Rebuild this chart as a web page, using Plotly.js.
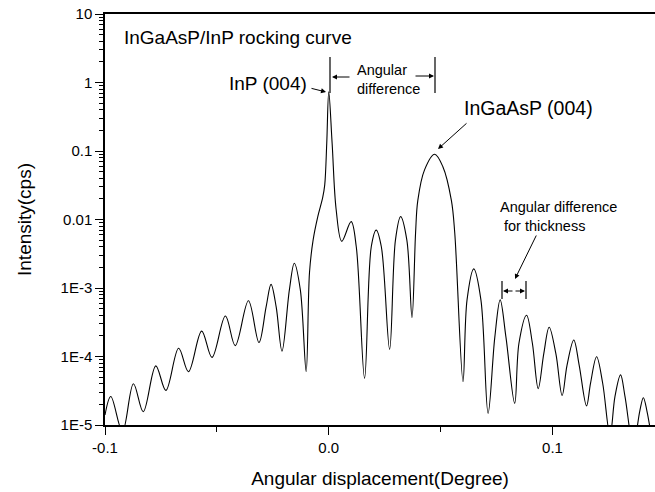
<!DOCTYPE html>
<html>
<head>
<meta charset="utf-8">
<script src="https://cdn.plot.ly/plotly-3.0.1.min.js"></script>
<style>
html,body{margin:0;padding:0;background:#fff;}
#chart{width:655px;height:492px;}
.modebar-container{display:none !important;}
</style>
</head>
<body>
<div id="chart"></div>
<script>
// Angular displacement (degree)
var angleDeg = [
  -0.1000, -0.0974, -0.0922, -0.0873, -0.0829, -0.0773, -0.0728, -0.0671, -0.0627,
  -0.0568, -0.0522, -0.0462, -0.0418, -0.0359, -0.0312, -0.0280, -0.0258, -0.0235,
  -0.0209, -0.0176, -0.0154, -0.0127, -0.0101, -0.0086, -0.0070, -0.0049, -0.0027,
  -0.0018, -0.0009, 0.0000, 0.0015, 0.0033, 0.0058, 0.0100, 0.0123, 0.0160,
  0.0190, 0.0212, 0.0235, 0.0272, 0.0298, 0.0321, 0.0349, 0.0372, 0.0388,
  0.0398, 0.0428, 0.0473, 0.0510, 0.0548, 0.0563, 0.0600, 0.0618, 0.0648,
  0.0680, 0.0712, 0.0742, 0.0766, 0.0792, 0.0831, 0.0850, 0.0884, 0.0910,
  0.0936, 0.0961, 0.0985, 0.1015, 0.1043, 0.1065, 0.1095, 0.1119, 0.1152,
  0.1170, 0.1197, 0.1224, 0.1257, 0.1279, 0.1304, 0.1324, 0.1361, 0.1390,
  0.1406, 0.1422, 0.1448
];
// Intensity (cps)
var intensity = [
  1.4e-5, 2.6e-5, 8e-6, 4.0e-5, 1.56e-5, 7.3e-5, 3.2e-5, 1.32e-4, 6.0e-5,
  2.35e-4, 9.7e-5, 3.9e-4, 1.44e-4, 6.5e-4, 1.6e-4, 5.3e-4, 1.13e-3, 5.3e-4,
  1.2e-4, 9.4e-4, 2.3e-3, 9.4e-4, 6.0e-5, 1.7e-3, 5.0e-3, 1.1e-2, 2.1e-2,
  3.2e-2, 0.13, 0.73, 0.13, 0.014, 4.8e-3, 9.3e-3, 4.0e-3, 4.8e-5,
  4.0e-3, 7.0e-3, 4.0e-3, 1.27e-4, 5.0e-3, 1.1e-2, 5.0e-3, 3.7e-4, 6.4e-3,
  1.9e-2, 5.3e-2, 8.95e-2, 5.9e-2, 1.9e-2, 6.4e-3, 4.3e-5, 6.7e-4, 1.9e-3,
  6.7e-4, 1.48e-5, 1.9e-4, 6.7e-4, 1.9e-4, 2.07e-5, 1.56e-4, 4.0e-4, 1.56e-4,
  3.4e-5, 1.1e-4, 2.67e-4, 1.1e-4, 2.7e-5, 7.5e-5, 1.74e-4, 7.5e-5, 1.9e-5,
  4.1e-5, 9.9e-5, 4.1e-5, 7e-6, 2.6e-5, 5.4e-5, 2.6e-5, 5e-6, 1.6e-5,
  2.5e-5, 1.6e-5, 5e-6
];
// tick label text as printed on the reference (hyphen minus, "1E-n")
var xLabelAlias = {'\u22120.1': '-0.1'};
var yLabelAlias = {'1E\u22123': '1E-3', '1E\u22124': '1E-4', '1E\u22125': '1E-5'};

// layout helpers: pixel position -> paper coords (plot area 105..655 x 14..425)
var L = 105, R = 655, T = 14, B = 425;
function px(x){ return (x - L) / (R - L); }
function py(y){ return (B - y) / (B - T); }

var FONT = 'Arial, "Liberation Sans", sans-serif';

var trace = {
  x: angleDeg, y: intensity, type: 'scatter', mode: 'lines',
  line: {color: '#000', width: 1.1, shape: 'spline', smoothing: 1},
  hoverinfo: 'skip'
};

function arrow(hx, hy, tx, ty){
  return {xref:'paper', yref:'paper', x: px(hx), y: py(hy), ax: tx - hx, ay: ty - hy,
    axref:'pixel', ayref:'pixel', text:'', showarrow:true, arrowhead:2, arrowsize:1,
    arrowwidth:1, arrowcolor:'#000'};
}
function vline(x, y0, y1){
  return {type:'line', xref:'paper', yref:'paper', x0: px(x), x1: px(x), y0: py(y0), y1: py(y1),
    line:{color:'#000', width:1.2}};
}

var layout = {
  width: 655, height: 492,
  margin: {l: L, r: 0, t: T, b: 492 - B},
  font: {family: FONT},
  xaxis: {
    range: [-0.1, 0.1458], dtick: 0.1, tick0: 0, tickformat: '.1f',
    labelalias: xLabelAlias,
    ticks: 'outside', ticklen: 8, tickcolor: '#000',
    minor: {dtick: 0.05, ticks: 'outside', ticklen: 5, tickcolor: '#000'},
    showline: true, linecolor: '#000', linewidth: 1.5, mirror: true,
    showgrid: false, zeroline: false,
    tickfont: {size: 15, color: '#000'},
    title: {text: 'Angular displacement(Degree)', font: {size: 19, color: '#000'}, standoff: 17}
  },
  yaxis: {
    type: 'log', range: [-5, 1], dtick: 1, exponentformat: 'E',
    labelalias: yLabelAlias,
    ticks: 'outside', ticklen: 8, tickcolor: '#000',
    minor: {dtick: 'D1', ticks: 'outside', ticklen: 4, tickcolor: '#000'},
    showline: true, linecolor: '#000', linewidth: 1.5,
    showgrid: false, zeroline: false,
    tickfont: {size: 15, color: '#000'},
    title: {text: 'Intensity(cps)', font: {size: 19, color: '#000'}, standoff: 24}
  },
  shapes: [
    vline(330, 57, 93), vline(435, 57, 93),
    vline(502, 281, 299), vline(526, 281, 299)
  ],
  annotations: [
    {xref:'paper', yref:'paper', x: px(122), y: py(37), xanchor:'left', yanchor:'middle',
      text:'InGaAsP/InP rocking curve', showarrow:false, font:{size:19, color:'#000'}},
    {xref:'paper', yref:'paper', x: px(309), y: py(83), xanchor:'right', yanchor:'middle',
      text:'InP (004)', showarrow:false, font:{size:19, color:'#000'}},
    {xref:'paper', yref:'paper', x: px(462), y: py(108), xanchor:'left', yanchor:'middle',
      text:'InGaAsP (004)', showarrow:false, font:{size:19.5, color:'#000'}},
    {xref:'paper', yref:'paper', x: px(355), y: py(79), xanchor:'left', yanchor:'middle', align:'left',
      text:'Angular<br>difference', showarrow:false, font:{size:14.5, color:'#000'}},
    {xref:'paper', yref:'paper', x: px(498), y: py(217), xanchor:'left', yanchor:'middle', align:'left',
      text:'Angular difference<br>&nbsp;for thickness', showarrow:false, font:{size:14.5, color:'#000'}},
    arrow(326, 92, 310, 88),
    arrow(332, 77, 351, 77),
    arrow(434, 76, 414, 76),
    arrow(438, 149, 468, 122),
    arrow(515, 279, 537, 234),
    arrow(503, 291, 514, 291),
    arrow(525, 291, 514, 291)
  ]
};

Plotly.newPlot('chart', [trace], layout);
</script>
</body>
</html>
